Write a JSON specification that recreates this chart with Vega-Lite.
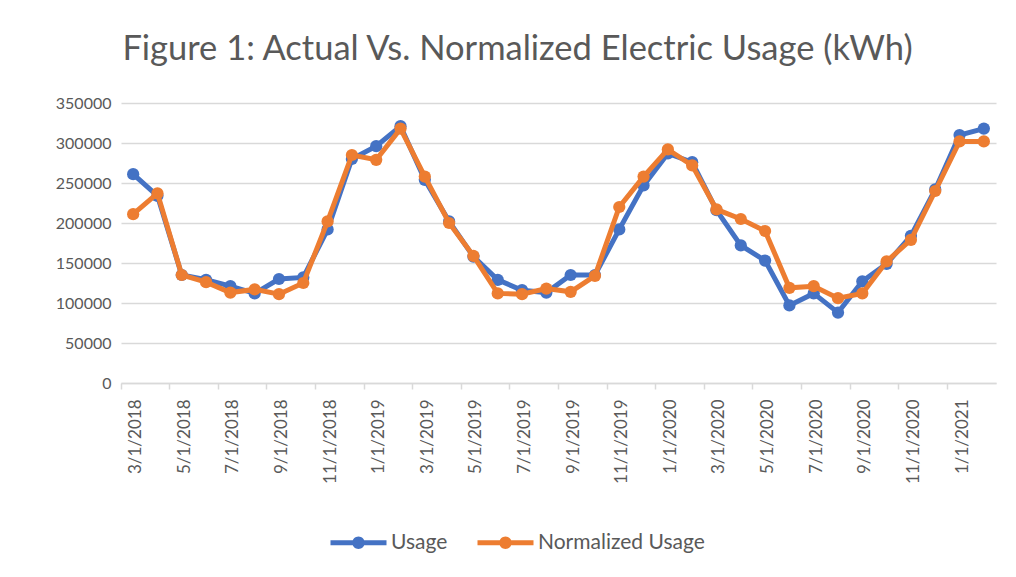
{
  "$schema": "https://vega.github.io/schema/vega-lite/v6.json",
  "width": 875,
  "height": 280,
  "autosize": {"type": "none"},
  "padding": {"left": 121, "top": 103, "right": 20, "bottom": 194},
  "background": "white",
  "config": {
    "font": "Lato",
    "view": {"stroke": null},
    "axis": {"labelColor": "#595959", "labelFont": "Lato"},
    "legend": {"labelColor": "#595959", "labelFont": "Lato"}
  },
  "title": {
    "text": "Figure 1: Actual Vs. Normalized  Electric Usage (kWh)",
    "fontSize": 34.5,
    "font": "Lato",
    "fontWeight": "normal",
    "color": "#595959",
    "anchor": "middle",
    "dx": -41,
    "offset": 28
  },
  "data": {
    "values": [
      {"month": "3/1/2018", "series": "Usage", "kwh": 261000},
      {"month": "4/1/2018", "series": "Usage", "kwh": 234000},
      {"month": "5/1/2018", "series": "Usage", "kwh": 135000},
      {"month": "6/1/2018", "series": "Usage", "kwh": 129000},
      {"month": "7/1/2018", "series": "Usage", "kwh": 121000},
      {"month": "8/1/2018", "series": "Usage", "kwh": 112000},
      {"month": "9/1/2018", "series": "Usage", "kwh": 130000},
      {"month": "10/1/2018", "series": "Usage", "kwh": 132000},
      {"month": "11/1/2018", "series": "Usage", "kwh": 192000},
      {"month": "12/1/2018", "series": "Usage", "kwh": 280000},
      {"month": "1/1/2019", "series": "Usage", "kwh": 296000},
      {"month": "2/1/2019", "series": "Usage", "kwh": 321000},
      {"month": "3/1/2019", "series": "Usage", "kwh": 254000},
      {"month": "4/1/2019", "series": "Usage", "kwh": 202000},
      {"month": "5/1/2019", "series": "Usage", "kwh": 158000},
      {"month": "6/1/2019", "series": "Usage", "kwh": 129000},
      {"month": "7/1/2019", "series": "Usage", "kwh": 116000},
      {"month": "8/1/2019", "series": "Usage", "kwh": 113000},
      {"month": "9/1/2019", "series": "Usage", "kwh": 135000},
      {"month": "10/1/2019", "series": "Usage", "kwh": 135000},
      {"month": "11/1/2019", "series": "Usage", "kwh": 192000},
      {"month": "12/1/2019", "series": "Usage", "kwh": 247000},
      {"month": "1/1/2020", "series": "Usage", "kwh": 287000},
      {"month": "2/1/2020", "series": "Usage", "kwh": 276000},
      {"month": "3/1/2020", "series": "Usage", "kwh": 216000},
      {"month": "4/1/2020", "series": "Usage", "kwh": 172000},
      {"month": "5/1/2020", "series": "Usage", "kwh": 153000},
      {"month": "6/1/2020", "series": "Usage", "kwh": 97000},
      {"month": "7/1/2020", "series": "Usage", "kwh": 112000},
      {"month": "8/1/2020", "series": "Usage", "kwh": 88000},
      {"month": "9/1/2020", "series": "Usage", "kwh": 127000},
      {"month": "10/1/2020", "series": "Usage", "kwh": 149000},
      {"month": "11/1/2020", "series": "Usage", "kwh": 184000},
      {"month": "12/1/2020", "series": "Usage", "kwh": 242000},
      {"month": "1/1/2021", "series": "Usage", "kwh": 310000},
      {"month": "2/1/2021", "series": "Usage", "kwh": 318000},
      {"month": "3/1/2018", "series": "Normalized Usage", "kwh": 211000},
      {"month": "4/1/2018", "series": "Normalized Usage", "kwh": 237000},
      {"month": "5/1/2018", "series": "Normalized Usage", "kwh": 135000},
      {"month": "6/1/2018", "series": "Normalized Usage", "kwh": 126000},
      {"month": "7/1/2018", "series": "Normalized Usage", "kwh": 113000},
      {"month": "8/1/2018", "series": "Normalized Usage", "kwh": 117000},
      {"month": "9/1/2018", "series": "Normalized Usage", "kwh": 111000},
      {"month": "10/1/2018", "series": "Normalized Usage", "kwh": 125000},
      {"month": "11/1/2018", "series": "Normalized Usage", "kwh": 202000},
      {"month": "12/1/2018", "series": "Normalized Usage", "kwh": 285000},
      {"month": "1/1/2019", "series": "Normalized Usage", "kwh": 279000},
      {"month": "2/1/2019", "series": "Normalized Usage", "kwh": 318000},
      {"month": "3/1/2019", "series": "Normalized Usage", "kwh": 258000},
      {"month": "4/1/2019", "series": "Normalized Usage", "kwh": 200000},
      {"month": "5/1/2019", "series": "Normalized Usage", "kwh": 159000},
      {"month": "6/1/2019", "series": "Normalized Usage", "kwh": 112000},
      {"month": "7/1/2019", "series": "Normalized Usage", "kwh": 111000},
      {"month": "8/1/2019", "series": "Normalized Usage", "kwh": 118000},
      {"month": "9/1/2019", "series": "Normalized Usage", "kwh": 114000},
      {"month": "10/1/2019", "series": "Normalized Usage", "kwh": 134000},
      {"month": "11/1/2019", "series": "Normalized Usage", "kwh": 220000},
      {"month": "12/1/2019", "series": "Normalized Usage", "kwh": 258000},
      {"month": "1/1/2020", "series": "Normalized Usage", "kwh": 292000},
      {"month": "2/1/2020", "series": "Normalized Usage", "kwh": 272000},
      {"month": "3/1/2020", "series": "Normalized Usage", "kwh": 217000},
      {"month": "4/1/2020", "series": "Normalized Usage", "kwh": 205000},
      {"month": "5/1/2020", "series": "Normalized Usage", "kwh": 190000},
      {"month": "6/1/2020", "series": "Normalized Usage", "kwh": 119000},
      {"month": "7/1/2020", "series": "Normalized Usage", "kwh": 121000},
      {"month": "8/1/2020", "series": "Normalized Usage", "kwh": 106000},
      {"month": "9/1/2020", "series": "Normalized Usage", "kwh": 112000},
      {"month": "10/1/2020", "series": "Normalized Usage", "kwh": 152000},
      {"month": "11/1/2020", "series": "Normalized Usage", "kwh": 179000},
      {"month": "12/1/2020", "series": "Normalized Usage", "kwh": 240000},
      {"month": "1/1/2021", "series": "Normalized Usage", "kwh": 302000},
      {"month": "2/1/2021", "series": "Normalized Usage", "kwh": 302000}
    ]
  },
  "encoding": {
    "x": {
      "field": "month",
      "type": "ordinal",
      "sort": null,
      "bandPosition": 0.5,
      "scale": {"type": "band", "paddingInner": 0, "paddingOuter": 0},
      "axis": {
        "title": null,
        "values": ["3/1/2018", "5/1/2018", "7/1/2018", "9/1/2018", "11/1/2018", "1/1/2019", "3/1/2019", "5/1/2019", "7/1/2019", "9/1/2019", "11/1/2019", "1/1/2020", "3/1/2020", "5/1/2020", "7/1/2020", "9/1/2020", "11/1/2020", "1/1/2021"],
        "bandPosition": 0,
        "labelOffset": 3,
        "labelAngle": -90,
        "labelAlign": "right",
        "labelBaseline": "middle",
        "labelFontSize": 17,
        "labelPadding": 10,
        "domainColor": "#d9d9d9",
        "domainWidth": 1.5,
        "tickColor": "#d9d9d9",
        "tickWidth": 1.5,
        "tickSize": 6,
        "grid": false
      }
    },
    "y": {
      "field": "kwh",
      "type": "quantitative",
      "scale": {"domain": [0, 350000]},
      "axis": {
        "title": null,
        "values": [0, 50000, 100000, 150000, 200000, 250000, 300000, 350000],
        "format": "d",
        "labelFontSize": 16,
        "labelPadding": 10,
        "ticks": false,
        "domain": false,
        "gridColor": "#d9d9d9",
        "gridWidth": 1.5
      }
    },
    "color": {
      "field": "series",
      "type": "nominal",
      "scale": {"domain": ["Usage", "Normalized Usage"], "range": ["#4472C4", "#ED7D31"]},
      "legend": {
        "title": null,
        "orient": "none",
        "legendX": 227,
        "legendY": 429,
        "direction": "horizontal",
        "labelFontSize": 21,
        "labelLimit": 400,
        "symbolType": "M -2.8 -0.25 H 2.8 V 0.25 H -2.8 Z M -0.62 0 A 0.62 0.62 0 1 1 0.62 0 A 0.62 0.62 0 1 1 -0.62 0 Z",
        "symbolSize": 400,
        "labelOffset": 22,
        "columnPadding": 29,
        "encode": {
          "symbols": {"update": {"fill": {"scale": "color", "field": "value"}, "stroke": {"value": "transparent"}, "strokeWidth": {"value": 0}, "opacity": {"value": 1}}}
        }
      }
    }
  },
  "layer": [
    {"transform": [{"filter": "datum.series === 'Usage'"}], "mark": {"type": "line", "strokeWidth": 5}},
    {"transform": [{"filter": "datum.series === 'Usage'"}], "mark": {"type": "point", "filled": true, "size": 150, "opacity": 1}},
    {"transform": [{"filter": "datum.series === 'Normalized Usage'"}], "mark": {"type": "line", "strokeWidth": 5}},
    {"transform": [{"filter": "datum.series === 'Normalized Usage'"}], "mark": {"type": "point", "filled": true, "size": 150, "opacity": 1}}
  ]
}
